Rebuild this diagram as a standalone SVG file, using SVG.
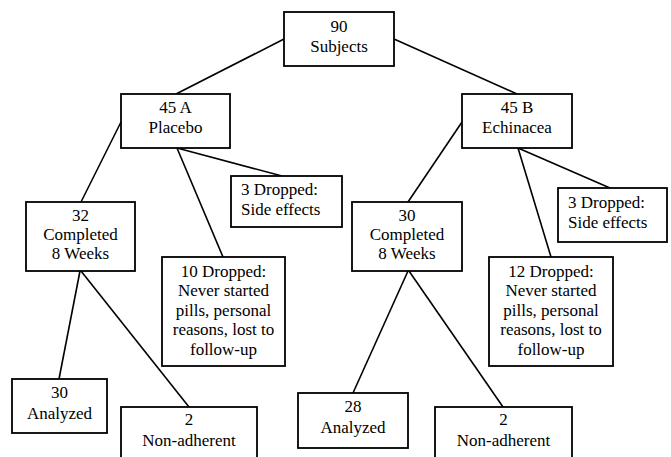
<svg xmlns="http://www.w3.org/2000/svg" width="671" height="457" viewBox="0 0 671 457">
<style>
rect{fill:#fff;stroke:#000;stroke-width:1.8}
line{stroke:#000;stroke-width:1.6}
text{font-size:17px;fill:#000}
.c{text-anchor:middle}
</style>
<rect x="0" y="0" width="671" height="457" style="stroke:none"/>
<g id="connectors">
<line x1="284" y1="39" x2="176" y2="94"/>
<line x1="394" y1="39" x2="517" y2="94"/>
<line x1="121" y1="122" x2="81" y2="202"/>
<line x1="177" y1="148" x2="282" y2="176"/>
<line x1="177" y1="148" x2="223" y2="257"/>
<line x1="80" y1="271" x2="59" y2="379"/>
<line x1="81" y1="271" x2="189" y2="407"/>
<line x1="462" y1="122" x2="408" y2="202"/>
<line x1="518" y1="148" x2="610" y2="188"/>
<line x1="518" y1="148" x2="551" y2="257"/>
<line x1="408" y1="271" x2="353" y2="393"/>
<line x1="409" y1="271" x2="503" y2="407"/>
</g>
<g font-family="Liberation Serif, DejaVu Serif, serif">
<g id="n90"><rect x="284" y="12" width="110" height="54"/><text class="c" x="339" y="31.5">90</text><text class="c" x="339" y="51.5">Subjects</text></g>
<g id="n45a"><rect x="121" y="94" width="109" height="54"/><text class="c" x="175.5" y="112.5">45 A</text><text class="c" x="175.5" y="133">Placebo</text></g>
<g id="n45b"><rect x="462" y="94" width="110" height="54"/><text class="c" x="517" y="112.5">45 B</text><text class="c" x="517" y="133">Echinacea</text></g>
<g id="n3a"><rect x="231" y="176" width="111" height="51"/><text x="241" y="195">3 Dropped:</text><text x="241" y="215">Side effects</text></g>
<g id="n3b"><rect x="558" y="188" width="109" height="54"/><text x="568" y="207.5">3 Dropped:</text><text x="568" y="227.5">Side effects</text></g>
<g id="n32"><rect x="26" y="202" width="109" height="69"/><text class="c" x="80.5" y="221">32</text><text class="c" x="80.5" y="240">Completed</text><text class="c" x="80.5" y="259">8 Weeks</text></g>
<g id="n30c"><rect x="352" y="202" width="110" height="69"/><text class="c" x="407" y="221">30</text><text class="c" x="407" y="240">Completed</text><text class="c" x="407" y="259">8 Weeks</text></g>
<g id="n10"><rect x="162" y="257" width="123" height="109"/><text class="c" x="223.5" y="276.5">10 Dropped:</text><text class="c" x="223.5" y="296">Never started</text><text class="c" x="223.5" y="315.5">pills, personal</text><text class="c" x="223.5" y="335">reasons, lost to</text><text class="c" x="223.5" y="354.5">follow-up</text></g>
<g id="n12"><rect x="489" y="257" width="124" height="109"/><text class="c" x="551" y="276.5">12 Dropped:</text><text class="c" x="551" y="296">Never started</text><text class="c" x="551" y="315.5">pills, personal</text><text class="c" x="551" y="335">reasons, lost to</text><text class="c" x="551" y="354.5">follow-up</text></g>
<g id="n30a"><rect x="12" y="379" width="95" height="54"/><text class="c" x="59.5" y="398">30</text><text class="c" x="59.5" y="419">Analyzed</text></g>
<g id="n2a"><rect x="121" y="407" width="136" height="60"/><text class="c" x="189" y="425">2</text><text class="c" x="189" y="446">Non-adherent</text></g>
<g id="n28"><rect x="298" y="393" width="110" height="55"/><text class="c" x="353" y="412">28</text><text class="c" x="353" y="433">Analyzed</text></g>
<g id="n2b"><rect x="435" y="407" width="137" height="60"/><text class="c" x="503.5" y="425">2</text><text class="c" x="503.5" y="446">Non-adherent</text></g>
</g>
</svg>
